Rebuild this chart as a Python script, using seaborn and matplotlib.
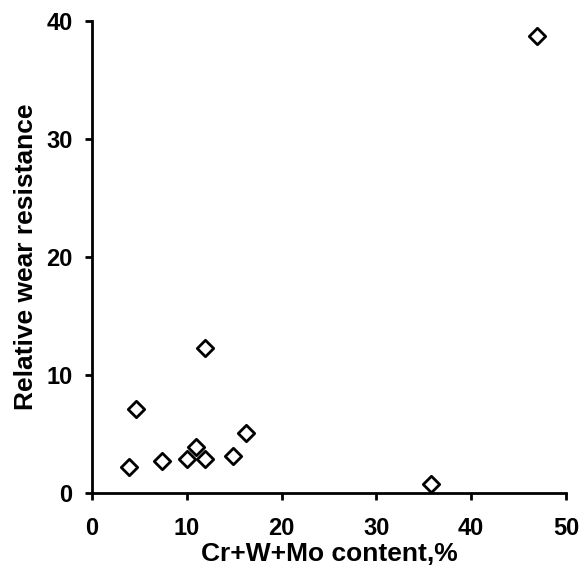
import matplotlib
matplotlib.use("Agg")
import matplotlib.pyplot as plt
import seaborn as sns
import pandas as pd

content = [3.9, 4.6, 7.4, 10.0, 11.0, 11.9, 11.9, 14.9, 16.3, 35.8, 47.0]
resistance = [2.2, 7.1, 2.75, 2.9, 3.9, 2.85, 12.3, 3.15, 5.05, 0.75, 38.7]
xticks = [0, 10, 20, 30, 40, 50]
yticks = [0, 10, 20, 30, 40]

df = pd.DataFrame({"x": content, "y": resistance})

sns.set_style("white")
plt.rcParams["font.family"] = ["Liberation Sans", "DejaVu Sans"]

fig = plt.figure(figsize=(5.84, 5.67), dpi=100)
ax = fig.add_axes([0.1575, 0.1305, 0.969 - 0.1575, 0.963 - 0.1305])
sns.scatterplot(data=df, x="x", y="y", ax=ax, marker="D", s=70,
                facecolor="white", edgecolor="black", linewidth=2, zorder=3)

ax.set_xlim(0, 50)
ax.set_ylim(0, 40)
ax.set_xticks(xticks)
ax.set_yticks(yticks)
ax.set_xticklabels([str(t) for t in xticks], fontsize=17, fontweight="bold")
ax.set_yticklabels([str(t) for t in yticks], fontsize=17, fontweight="bold")
ax.set_xlabel("Cr+W+Mo content,%", fontsize=19, fontweight="bold",
              labelpad=2, color="black")
ax.set_ylabel("Relative wear resistance", fontsize=19, fontweight="bold",
              labelpad=6, color="black")
for side in ["top", "right"]:
    ax.spines[side].set_visible(False)
for side in ["left", "bottom"]:
    ax.spines[side].set_color("black")
    ax.spines[side].set_linewidth(2)
ax.tick_params(axis="both", direction="out", length=5, width=2, color="black",
               bottom=True, left=True, labelcolor="black")
ax.tick_params(axis="x", pad=12)
ax.tick_params(axis="y", pad=9)
for lbl in ax.get_xticklabels() + ax.get_yticklabels():
    lbl.set_fontweight("bold")

fig.savefig("out.png", dpi=100, facecolor="white")
